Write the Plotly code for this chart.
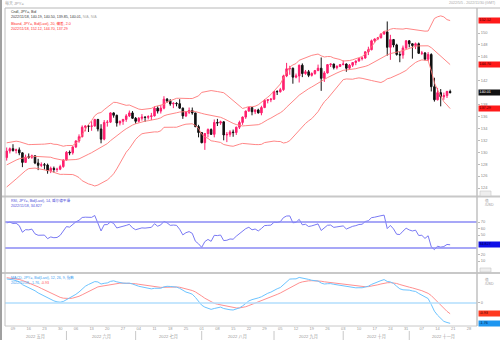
import pandas as pd
import numpy as np
import plotly.graph_objects as go

W, H = 500, 340
def fx(p): return p / W
def fy(p): return 1 - p / H

# ---------------- data ----------------
warmup_start, warmup_end = "2022-03-01", "2022-05-04"
vis_start, vis_end = "2022-05-05", "2022-11-18"

warmup_close = [
    114.9, 115.5, 115.5, 114.8, 115.3, 115.7, 115.9, 116.1, 117.3, 118.2, 118.3, 118.7, 118.6, 119.2,
    119.4, 120.8, 121.2, 122.3, 122.1, 123.8, 122.9, 121.8, 121.7,
    122.5, 122.8, 123.6, 123.8, 123.9, 124.3, 125.4, 125.4, 125.6, 125.9, 126.4, 127.0, 128.9, 127.9,
    128.4, 128.5, 128.1, 127.2, 128.4, 130.8, 129.7,
    130.2, 130.1, 129.1]

ohlc = [
    # May
    (129.1, 130.8, 128.6, 130.2), (130.2, 130.8, 129.8, 130.6), (130.6, 131.35, 130.1, 130.3),
    (130.3, 130.6, 129.8, 130.4), (130.4, 130.8, 129.5, 129.9), (129.9, 130.0, 127.5, 128.3),
    (128.3, 129.6, 128.2, 129.2), (129.3, 129.8, 128.9, 129.15), (129.15, 129.6, 128.9, 129.4),
    (129.4, 129.5, 128.0, 128.2), (128.2, 128.9, 127.0, 127.8), (127.8, 128.3, 127.5, 127.9),
    (127.9, 128.2, 127.1, 127.85), (127.85, 128.1, 126.4, 126.9), (126.9, 127.6, 126.5, 127.3),
    (127.3, 127.6, 126.6, 127.1), (127.1, 127.4, 126.7, 127.15), (127.15, 127.9, 127.0, 127.6),
    (127.6, 128.8, 127.4, 128.7),
    # June
    (128.7, 130.2, 128.6, 130.0), (130.0, 130.3, 129.5, 129.9), (129.9, 130.98, 129.6, 130.9),
    (130.9, 132.0, 130.7, 131.9), (131.9, 133.0, 131.6, 132.6), (132.6, 134.5, 132.5, 134.2),
    (134.2, 134.5, 133.5, 134.4), (134.4, 134.6, 133.4, 134.35), (134.35, 135.2, 133.6, 134.4),
    (134.4, 135.6, 134.3, 135.5), (135.5, 135.6, 133.5, 133.9), (133.9, 134.7, 131.5, 132.2),
    (132.2, 135.4, 132.0, 135.0), (135.0, 135.4, 134.3, 135.05), (135.05, 136.7, 134.9, 136.6),
    (136.6, 136.7, 135.8, 136.2), (136.2, 136.3, 134.3, 134.9), (134.9, 135.3, 134.5, 135.2),
    (135.2, 135.6, 134.6, 135.5), (135.5, 136.4, 135.1, 136.1), (136.1, 137.0, 135.9, 136.6),
    (136.6, 136.9, 135.6, 135.7),
    # July
    (135.7, 135.9, 134.8, 135.2), (135.2, 135.9, 135.0, 135.7), (135.7, 136.4, 135.3, 135.9),
    (135.9, 136.0, 135.1, 135.85), (135.85, 136.2, 135.5, 136.0), (136.0, 136.6, 135.4, 136.1),
    (136.1, 137.7, 136.0, 137.4), (137.4, 137.7, 136.5, 136.9), (136.9, 137.9, 136.5, 137.4),
    (137.4, 139.4, 137.2, 138.9), (138.9, 139.1, 138.3, 138.6), (138.6, 138.9, 137.8, 138.1),
    (138.1, 138.4, 137.4, 138.2), (138.2, 138.4, 137.7, 138.15), (138.15, 138.9, 137.3, 137.4),
    (137.4, 137.5, 135.6, 136.1), (136.1, 136.9, 135.9, 136.7), (136.7, 137.5, 136.4, 137.0),
    (137.0, 137.5, 136.3, 136.6), (136.6, 136.6, 134.2, 134.3), (134.3, 134.6, 132.5, 133.3),
    # August
    (133.3, 133.4, 131.5, 131.6), (131.6, 133.2, 130.4, 133.15), (133.15, 134.0, 132.5, 133.8),
    (133.8, 134.0, 132.9, 133.0), (133.0, 135.5, 132.5, 135.0), (135.0, 135.6, 134.4, 134.9),
    (134.9, 135.3, 134.6, 135.1), (135.1, 135.2, 132.0, 132.9), (132.9, 133.4, 131.7, 133.0),
    (133.0, 133.7, 132.6, 133.4), (133.4, 133.8, 132.6, 133.3), (133.3, 134.3, 132.9, 134.2),
    (134.2, 135.3, 133.9, 135.0), (135.0, 136.0, 134.6, 135.9), (135.9, 137.0, 135.6, 136.9),
    (136.9, 137.6, 136.8, 137.5), (137.5, 137.6, 136.2, 136.8), (136.8, 137.2, 136.4, 137.1),
    (137.1, 137.3, 136.5, 136.6), (136.6, 137.8, 136.2, 137.5), (137.5, 138.9, 137.4, 138.7),
    (138.7, 138.9, 138.2, 138.8), (138.8, 139.1, 138.4, 138.9),
    # September
    (138.9, 140.25, 138.8, 140.2), (140.2, 140.4, 139.6, 140.15), (140.15, 140.8, 140.0, 140.5),
    (140.5, 143.0, 140.3, 142.8), (142.8, 144.99, 142.6, 144.0), (144.0, 144.5, 143.0, 144.1),
    (144.1, 144.2, 141.5, 142.6), (142.6, 143.2, 142.4, 142.8), (142.8, 144.7, 141.7, 144.6),
    (144.6, 144.9, 142.6, 143.2), (143.2, 143.8, 143.0, 143.5), (143.5, 143.8, 142.6, 142.9),
    (142.9, 143.4, 142.7, 143.2), (143.2, 143.8, 143.0, 143.7), (143.7, 144.7, 143.6, 144.1),
    (144.1, 145.9, 140.3, 142.4), (142.4, 143.6, 141.8, 143.3), (143.3, 144.8, 143.2, 144.7),
    (144.7, 144.9, 144.3, 144.8), (144.8, 144.85, 143.9, 144.2), (144.2, 144.6, 143.9, 144.4),
    (144.4, 144.8, 144.3, 144.7),
    # October
    (144.7, 145.4, 144.6, 144.8), (144.8, 144.9, 143.5, 144.1), (144.1, 144.8, 143.9, 144.6),
    (144.6, 145.1, 144.3, 145.05), (145.05, 145.4, 144.6, 145.3), (145.3, 145.8, 145.2, 145.7),
    (145.7, 146.0, 145.4, 145.8), (145.8, 146.9, 145.7, 146.85), (146.85, 147.7, 146.3, 147.2),
    (147.2, 148.9, 147.1, 148.7), (148.7, 149.1, 148.4, 149.0), (149.0, 149.3, 148.8, 149.2),
    (149.2, 149.9, 149.1, 149.85), (149.85, 150.3, 149.7, 150.2), (150.2, 151.94, 146.2, 147.6),
    (147.6, 149.7, 145.5, 148.9), (148.9, 149.0, 147.6, 148.0), (148.0, 148.2, 146.2, 146.4),
    (146.4, 146.9, 145.1, 146.3), (146.3, 147.9, 145.7, 147.5), (147.5, 148.8, 147.3, 148.7),
    # November
    (148.7, 148.8, 147.6, 148.2), (148.2, 148.3, 145.7, 147.9), (147.9, 148.4, 147.3, 148.2),
    (148.2, 148.4, 146.5, 146.6), (146.6, 147.0, 146.3, 146.65), (146.65, 146.8, 145.4, 145.6),
    (145.6, 146.8, 145.3, 146.4), (146.4, 146.6, 140.2, 141.0), (141.0, 142.5, 138.5, 138.8),
    (138.8, 140.8, 138.7, 140.0), (140.0, 140.6, 137.7, 139.3), (139.3, 140.0, 138.8, 139.5),
    (139.5, 140.3, 139.1, 140.2), (140.19, 140.50, 139.85, 140.01),
]
open_ = [r[0] for r in ohlc]
high = [r[1] for r in ohlc]
low = [r[2] for r in ohlc]
close = [r[3] for r in ohlc]

price_ticks = [124, 126, 128, 130, 132, 134, 136, 138, 142, 146, 148, 150]
rsi_ticks = [10, 20, 50, 60, 70]
macd_ticks = [0]
rsi_levels = [70, 30]

month_labels = ["2022 五月", "2022 六月", "2022 七月", "2022 八月", "2022 九月", "2022 十月", "2022 十一月"]
bb_last = ["152.12", "144.70", "137.29"]
bb_last_v = [152.12, 144.70, 137.29]
last_close_txt, last_close_v = "140.01", 140.01
rsi_last_txt, rsi_last_v = "34.827", 34.827
macd_last_txt = ["-1.76", "-0.93"]
macd_last_v = [-1.76, -0.93]

# ---------------- calendar / indicators ----------------
cal = pd.bdate_range("2022-03-01", "2022-12-02")
pos = {d: i for i, d in enumerate(cal)}
warm_dates = pd.bdate_range(warmup_start, warmup_end)
vis_dates = pd.bdate_range(vis_start, vis_end)
assert len(warm_dates) == len(warmup_close) and len(vis_dates) == len(close)
xv = np.array([pos[d] for d in vis_dates])

c_all = pd.Series(warmup_close + close, dtype=float)
nw = len(warmup_close)
mid = c_all.rolling(20).mean()
sd = c_all.rolling(20).std(ddof=0)
up = mid + 2 * sd
lo = mid - 2 * sd
d = c_all.diff()
g = d.clip(lower=0).ewm(alpha=1 / 14, adjust=False).mean()
l_ = (-d.clip(upper=0)).ewm(alpha=1 / 14, adjust=False).mean()
rsi = 100 - 100 / (1 + g / l_)
macd = c_all.ewm(span=12, adjust=False).mean() - c_all.ewm(span=26, adjust=False).mean()
sig = macd.ewm(span=9, adjust=False).mean()
sl = slice(nw, None)

x0 = pos[pd.Timestamp(vis_start)] - 0.54
x1 = pos[pd.Timestamp("2022-11-30")] + 0.54

FONT = "Liberation Sans, Noto Sans CJK SC, sans-serif"
fig = go.Figure()

BBC = "#ff7878"
fig.add_trace(go.Scatter(x=xv, y=up[sl], mode="lines", line=dict(color=BBC, width=0.9), xaxis="x", yaxis="y"))
fig.add_trace(go.Scatter(x=xv, y=mid[sl], mode="lines", line=dict(color=BBC, width=0.9), xaxis="x", yaxis="y"))
fig.add_trace(go.Scatter(x=xv, y=lo[sl], mode="lines", line=dict(color=BBC, width=0.9), xaxis="x", yaxis="y"))
fig.add_trace(go.Candlestick(x=xv, open=open_, high=high, low=low, close=close, xaxis="x", yaxis="y",
                             increasing=dict(line=dict(color="#ff1f6e", width=1), fillcolor="#ff1f6e"),
                             decreasing=dict(line=dict(color="#111111", width=1), fillcolor="#111111"),
                             whiskerwidth=0))
fig.add_trace(go.Scatter(x=xv, y=rsi[sl], mode="lines", line=dict(color="#6a6af2", width=0.9), xaxis="x2", yaxis="y2"))
fig.add_trace(go.Scatter(x=xv, y=sig[sl], mode="lines", line=dict(color="#ff9090", width=1), xaxis="x3", yaxis="y3"))
fig.add_trace(go.Scatter(x=xv, y=macd[sl], mode="lines", line=dict(color="#6cc4ff", width=1), xaxis="x3", yaxis="y3"))

mondays = [d for d in cal if d.weekday() == 0 and pd.Timestamp("2022-05-09") <= d <= pd.Timestamp("2022-11-28")]
tickvals = [pos[d] for d in mondays]
ticktext = [f"{d.day:02d}" for d in mondays]

xdom = [fx(5), fx(477)]
common_x = dict(range=[x0, x1], showgrid=False, zeroline=False, showline=False, fixedrange=True,
                rangeslider=dict(visible=False))
ycommon = dict(side="right", showgrid=False, zeroline=False, showline=False, ticks="outside", ticklen=2,
               tickcolor="#bbbbbb", tickfont=dict(size=4, color="#888888", family=FONT), automargin=False)
fig.update_layout(
    width=W, height=H, margin=dict(l=0, r=0, t=0, b=0), paper_bgcolor="white", plot_bgcolor="white",
    showlegend=False, hovermode=False, font=dict(family=FONT),
    xaxis=dict(domain=xdom, anchor="y", showticklabels=False, matches="x3", **common_x),
    xaxis2=dict(domain=xdom, anchor="y2", showticklabels=False, matches="x3", **common_x),
    xaxis3=dict(domain=xdom, anchor="y3", tickmode="array", tickvals=tickvals, ticktext=ticktext,
                tickfont=dict(size=4, color="#999999", family=FONT), ticks="", automargin=False,
                **common_x),
    yaxis=dict(domain=[fy(196), fy(9)], range=[122.66, 154.03], tickvals=price_ticks, **ycommon),
    yaxis2=dict(domain=[fy(272), fy(197)], range=[-6.9, 108.5], tickvals=rsi_ticks, **ycommon),
    yaxis3=dict(domain=[fy(325), fy(274)], range=[-1.9, 2.5], tickvals=macd_ticks, **ycommon),
)

shapes = []
def hline(y, xa, xb, color, w):
    shapes.append(dict(type="line", xref="paper", yref="paper", x0=fx(xa), x1=fx(xb), y0=fy(y), y1=fy(y),
                       line=dict(color=color, width=w)))
def vline(x, ya, yb, color, w):
    shapes.append(dict(type="line", xref="paper", yref="paper", x0=fx(x), x1=fx(x), y0=fy(ya), y1=fy(yb),
                       line=dict(color=color, width=w)))
for lv in rsi_levels:
    shapes.append(dict(type="line", xref="paper", yref="y2", x0=fx(5), x1=fx(477), y0=lv, y1=lv,
                       line=dict(color="#8a8af5", width=1.3)))
shapes.append(dict(type="line", xref="paper", yref="y3", x0=fx(5), x1=fx(477), y0=0, y1=0,
                   line=dict(color="#b2defc", width=1.6)))
hline(8, 5, 500, "#b8b8b8", 1)
hline(196.5, 0, 500, "#c8c8c8", 2)
hline(273, 0, 500, "#c8c8c8", 2)
hline(326, 5, 477, "#c8c8c8", 1)
vline(1, 0, 340, "#a0a0a0", 2)
vline(5, 8, 326, "#c0c0c0", 1)
vline(477, 8, 326, "#c0c0c0", 1.5)
month_starts = [pd.Timestamp(s) for s in ["2022-06-01", "2022-07-01", "2022-08-01", "2022-09-01", "2022-10-03", "2022-11-01"]]
for m in month_starts:
    shapes.append(dict(type="line", xref="x3", yref="paper", x0=pos[m], x1=pos[m], y0=fy(331), y1=fy(340),
                       line=dict(color="#c8c8c8", width=1)))
for yb in [(191, 196), (268, 272)]:
    shapes.append(dict(type="rect", xref="paper", yref="paper", x0=fx(480), x1=fx(491), y0=fy(yb[1]), y1=fy(yb[0]),
                       line=dict(color="#c8c8c8", width=0.6), fillcolor="#eeeeee"))
fig.update_layout(shapes=shapes)

ann = []
def text(x, y, s, color, size=3.6, anchor="left"):
    ann.append(dict(xref="paper", yref="paper", x=fx(x), y=fy(y), text=s, showarrow=False, xanchor=anchor,
                    yanchor="middle", font=dict(size=size, color=color, family=FONT)))
text(3, 3.5, "每天 JPY=", "#a0a0a0", 4)
text(497, 3.5, "2022/5/5 - 2022/11/30 (GMT)", "#a8a8a8", 3.6, "right")
text(9, 12.5, "Cndl, JPY=, Bid", "#333333")
text(9, 17, "2022/11/18, 140.19, 140.50, 139.85, 140.01, <span style='color:#aaaaaa'>N/A, N/A</span>", "#333333")
text(9, 24, "Bband, JPY=, Bid(Last), 20, 偏差, 2.0", "#ff2a2a")
text(9, 28.5, "2022/11/18, 152.12, 144.70, 137.29", "#ff2a2a")
text(9, 200.5, "RSI, JPY=, Bid(Last), 14, 威尔德平滑", "#4a4ad8")
text(9, 205.5, "2022/11/18, 34.827", "#4a4ad8")
text(9, 277.5, "MACD, JPY=, Bid(Last), 12, 26, 9, 指数", "#3a9cf0")
text(9, 282.5, "2022/11/18, -1.76, <span style='color:#ff5050'>-0.93</span>", "#3a9cf0")
text(483, 200, "值", "#999999", 3.6)
text(483, 204.5, "/USD", "#999999", 3.6)
text(483, 279, "值", "#999999", 3.6)
text(483, 283.5, "/USD", "#999999", 3.6)

def box(yref, v, s, bg, fg):
    ann.append(dict(xref="paper", yref=yref, x=fx(477.5), y=v, text=s, showarrow=False, xanchor="left",
                    yanchor="middle", bgcolor=bg, borderpad=0.3, width=21, align="left",
                    font=dict(size=3.8, color=fg, family=FONT)))
for v, s in zip(bb_last_v, bb_last):
    box("y", v, s, "#ff1a1a", "#400000")
box("y", last_close_v, last_close_txt, "#111111", "#ffffff")
box("y2", rsi_last_v, rsi_last_txt, "#1010e8", "#000040")
box("y3", macd_last_v[1], macd_last_txt[1], "#ff3a20", "#400000")
box("y3", macd_last_v[0], macd_last_txt[0], "#1e96f0", "#002040")

bounds = [x0] + [pos[m] for m in month_starts] + [x1]
for i, lab in enumerate(month_labels):
    cx = (bounds[i] + bounds[i + 1]) / 2
    ann.append(dict(xref="x3", yref="paper", x=cx, y=fy(336.5), text=lab, showarrow=False, xanchor="center",
                    yanchor="middle", font=dict(size=4.2, color="#999999", family=FONT)))
fig.update_layout(annotations=ann)

fig.write_html("out.html")
